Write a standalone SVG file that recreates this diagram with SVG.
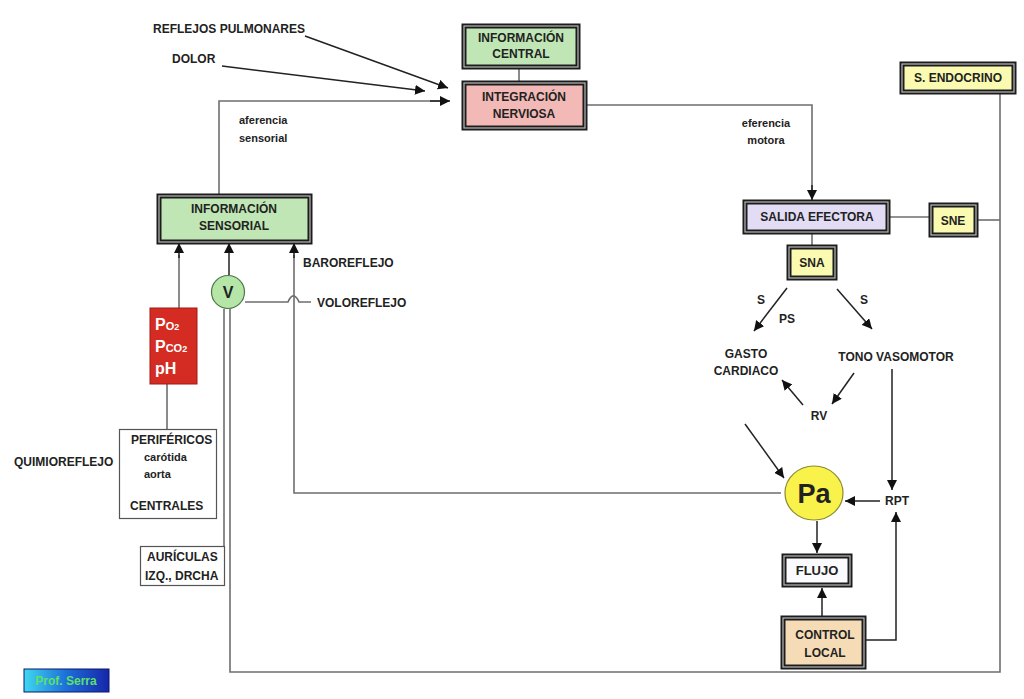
<svg xmlns="http://www.w3.org/2000/svg" width="1024" height="699" viewBox="0 0 1024 699">
<defs>
<style>
.t{font-family:"Liberation Sans",Arial,sans-serif;font-weight:bold;font-size:12px;fill:#222}
.tc{text-anchor:middle}
.ln{fill:none;stroke:#6e6e6e;stroke-width:1.6}
.ar{fill:none;stroke:#222;stroke-width:1.5}
.ob{stroke:#1c1c1c;stroke-width:5}
.ib{fill:none;stroke:#b8b8b8;stroke-width:1.2}
</style>
<marker id="ah" viewBox="0 0 10 10" refX="10" refY="5" markerWidth="10" markerHeight="10" markerUnits="userSpaceOnUse" orient="auto">
<path d="M0,0 L10,5 L0,10 z" fill="#111"/>
</marker>
<linearGradient id="gs" x1="0" y1="0" x2="1" y2="0">
<stop offset="0" stop-color="#3fd8f0"/>
<stop offset="0.5" stop-color="#1d6ed8"/>
<stop offset="1" stop-color="#1626a8"/>
</linearGradient>
</defs>
<rect width="1024" height="699" fill="#fff"/>

<g id="connectors">
<line class="ln" x1="519" y1="67" x2="519" y2="82"/>
<line class="ar" x1="305" y1="36" x2="448" y2="88" marker-end="url(#ah)"/>
<line class="ar" x1="222" y1="66" x2="425" y2="91" marker-end="url(#ah)"/>
<polyline class="ln" points="219,195 219,101 440,101"/>
<line class="ar" x1="430" y1="101" x2="450" y2="101" marker-end="url(#ah)"/>
<polyline class="ln" points="586,105 812,105 812,192"/>
<line class="ar" x1="812" y1="185" x2="812" y2="200" marker-end="url(#ah)"/>
<line class="ln" x1="812" y1="233" x2="812" y2="246"/>
<line class="ln" x1="889" y1="217" x2="931" y2="217"/>
<line class="ln" x1="977" y1="220" x2="1000" y2="220"/>
<polyline class="ln" points="1000,93 1000,672 230,672 230,309"/>
<line class="ln" x1="224" y1="309" x2="224" y2="546"/>
<line class="ar" x1="787" y1="288" x2="754" y2="331" marker-end="url(#ah)"/>
<line class="ar" x1="837" y1="289" x2="872" y2="329" marker-end="url(#ah)"/>
<line class="ar" x1="803" y1="405" x2="782" y2="380" marker-end="url(#ah)"/>
<line class="ar" x1="854" y1="373" x2="832" y2="404" marker-end="url(#ah)"/>
<line class="ar" x1="745" y1="424" x2="784" y2="478" marker-end="url(#ah)"/>
<line class="ar" x1="892" y1="369" x2="892" y2="490" marker-end="url(#ah)"/>
<line class="ar" x1="880" y1="501" x2="845" y2="501" marker-end="url(#ah)"/>
<polyline class="ar" points="865,640 896,640 896,512" marker-end="url(#ah)"/>
<line class="ar" x1="817" y1="521" x2="817" y2="553" marker-end="url(#ah)"/>
<line class="ar" x1="822" y1="616" x2="822" y2="588" marker-end="url(#ah)"/>
<polyline class="ln" points="781,493 294,493 294,255"/>
<line class="ar" x1="294" y1="258" x2="294" y2="243" marker-end="url(#ah)"/>
<line class="ar" x1="229" y1="275" x2="229" y2="243" marker-end="url(#ah)"/>
<line class="ln" x1="179" y1="308" x2="179" y2="255"/>
<line class="ar" x1="179" y1="258" x2="179" y2="243" marker-end="url(#ah)"/>
<line class="ln" x1="167" y1="384" x2="167" y2="429"/>
<path class="ln" d="M245,302 L288,302 Q291,295 294,296 Q297,297 299,302 L311,302"/>
</g>

<g id="n-info-central">
<rect class="ob" x="464" y="26" width="114" height="41" fill="#bfe6b4"/>
<rect class="ib" x="464" y="26" width="114" height="41"/>
<text class="t tc" x="521" y="42">INFORMACIÓN</text>
<text class="t tc" x="521" y="58">CENTRAL</text>
</g>

<g id="n-integracion">
<rect class="ob" x="464" y="83" width="121" height="45" fill="#f2b9b6"/>
<rect class="ib" x="464" y="83" width="121" height="45"/>
<text class="t tc" x="524" y="101">INTEGRACIÓN</text>
<text class="t tc" x="524" y="118">NERVIOSA</text>
</g>

<g id="n-endocrino">
<rect class="ob" x="902" y="64" width="112" height="28" fill="#fafab0"/>
<rect class="ib" x="902" y="64" width="112" height="28"/>
<text class="t tc" x="958" y="82">S. ENDOCRINO</text>
</g>

<g id="n-salida">
<rect class="ob" x="745" y="202" width="143" height="30" fill="#e3dcf5"/>
<rect class="ib" x="745" y="202" width="143" height="30"/>
<text class="t tc" x="817" y="221">SALIDA EFECTORA</text>
</g>

<g id="n-sne">
<rect class="ob" x="931" y="205" width="45" height="30" fill="#fafab0"/>
<rect class="ib" x="931" y="205" width="45" height="30"/>
<text class="t tc" x="953" y="225">SNE</text>
</g>

<g id="n-sna">
<rect class="ob" x="789" y="247" width="46" height="31" fill="#fafab0"/>
<rect class="ib" x="789" y="247" width="46" height="31"/>
<text class="t tc" x="812" y="267">SNA</text>
</g>

<g id="labels-sna">
<text class="t" x="757" y="304">S</text>
<text class="t" x="779" y="323">PS</text>
<text class="t" x="860" y="304">S</text>
<text class="t tc" x="746" y="358">GASTO</text>
<text class="t tc" x="746" y="375">CARDIACO</text>
<text class="t tc" x="896" y="361">TONO VASOMOTOR</text>
<text class="t tc" x="819" y="420">RV</text>
<text class="t tc" x="897" y="505">RPT</text>
<text class="t tc" x="766" y="127" style="font-size:11px">eferencia</text>
<text class="t tc" x="766" y="144" style="font-size:11px">motora</text>
</g>

<g id="n-pa">
<ellipse cx="814" cy="493" rx="29" ry="27" fill="#f8f24a" stroke="#8a8a30" stroke-width="1.2"/>
<text class="t tc" x="814" y="503" style="font-size:27px">Pa</text>
</g>

<g id="n-flujo">
<rect class="ob" x="784" y="556" width="66" height="29" fill="#fbfbff"/>
<rect class="ib" x="784" y="556" width="66" height="29"/>
<text class="t tc" x="817" y="575" style="font-size:13px">FLUJO</text>
</g>

<g id="n-control">
<rect class="ob" x="783" y="618" width="81" height="49" fill="#f6dcb6"/>
<rect class="ib" x="783" y="618" width="81" height="49"/>
<text class="t tc" x="825" y="639">CONTROL</text>
<text class="t tc" x="825" y="657">LOCAL</text>
</g>

<g id="left-labels">
<text class="t" x="153" y="33">REFLEJOS PULMONARES</text>
<text class="t" x="172" y="63">DOLOR</text>
<text class="t" x="239" y="124" style="font-size:11px">aferencia</text>
<text class="t" x="239" y="142" style="font-size:11px">sensorial</text>
<text class="t" x="303" y="267">BAROREFLEJO</text>
<text class="t" x="317" y="307">VOLOREFLEJO</text>
<text class="t" x="14" y="466">QUIMIOREFLEJO</text>
</g>

<g id="n-info-sensorial">
<rect class="ob" x="159" y="196" width="151" height="46" fill="#bfe6b4"/>
<rect class="ib" x="159" y="196" width="151" height="46"/>
<text class="t tc" x="234" y="213">INFORMACIÓN</text>
<text class="t tc" x="234" y="230">SENSORIAL</text>
</g>

<g id="n-v">
<circle cx="228" cy="292" r="16.5" fill="#b5e6a8" stroke="#4a7a44" stroke-width="1.2"/>
<text class="t tc" x="228" y="298" style="font-size:16px">V</text>
</g>

<g id="n-gases">
<rect x="150" y="308" width="47" height="76" fill="#d42b22" stroke="#a01a14" stroke-width="1"/>
<text class="t" x="155" y="330" style="fill:#fff;font-size:16px">P<tspan style="font-size:11px">O</tspan><tspan style="font-size:9px">2</tspan></text>
<text class="t" x="155" y="352" style="fill:#fff;font-size:16px">P<tspan style="font-size:11px">CO</tspan><tspan style="font-size:9px">2</tspan></text>
<text class="t" x="155" y="374" style="fill:#fff;font-size:16px">pH</text>
</g>

<g id="n-perifericos">
<rect x="119.5" y="429.5" width="97" height="89" fill="#fff" stroke="#555" stroke-width="1.2"/>
<text class="t" x="131" y="444">PERIFÉRICOS</text>
<text class="t" x="144" y="461" style="font-size:11px">carótida</text>
<text class="t" x="144" y="478" style="font-size:11px">aorta</text>
<text class="t" x="130" y="510">CENTRALES</text>
</g>

<g id="n-auriculas">
<rect x="140.5" y="546.5" width="84" height="39" fill="#fff" stroke="#555" stroke-width="1.2"/>
<text class="t" x="147" y="561">AURÍCULAS</text>
<text class="t" x="145" y="580">IZQ., DRCHA</text>
</g>

<g id="n-prof">
<rect x="24" y="669" width="85" height="23" fill="url(#gs)" stroke="#0c1870" stroke-width="1"/>
<text class="t tc" x="66" y="685" style="fill:#5ee06a;font-size:12px">Prof. Serra</text>
</g>
</svg>
